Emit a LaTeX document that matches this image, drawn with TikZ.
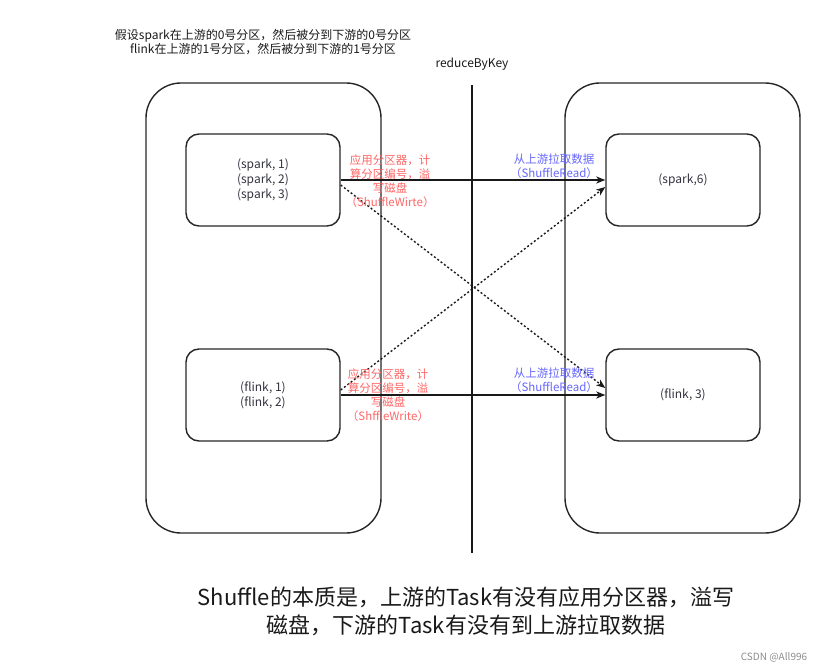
\documentclass[tikz,border=0pt]{standalone}
\usepackage{fontspec}
\setmainfont{Noto Sans CJK SC}
\usetikzlibrary{arrows.meta}
\definecolor{redtxt}{HTML}{FF6666}
\definecolor{bluetxt}{HTML}{6666FF}
\definecolor{dtxt}{HTML}{333340}
\tikzset{
  outerbox/.style={draw=black!85, line width=1.4pt, rounded corners=35pt, minimum width=235pt, minimum height=450pt},
  innerbox/.style={draw=black!85, line width=1.4pt, rounded corners=13pt, minimum width=154pt, minimum height=92pt, text=dtxt, align=center, font=\fontsize{12}{15}\selectfont},
  arr/.style={draw=black!90, line width=1.4pt, -{Stealth[length=9pt,width=7pt,inset=2.5pt]}},
  dotarr/.style={arr, dash pattern=on 2pt off 2.2pt},
  redlab/.style={text=redtxt, align=center, font=\fontsize{11.5}{14}\selectfont},
  bluelab/.style={text=bluetxt, align=center, font=\fontsize{11.5}{14}\selectfont},
}
\begin{document}
\begin{tikzpicture}[x=1pt,y=-1pt]
\useasboundingbox (0,0) rectangle (828,671);
\node[align=center, text=black!90, font=\fontsize{12}{14}\selectfont] (title) at (263,42) {假设spark在上游的0号分区，然后被分到下游的0号分区\\flink在上游的1号分区，然后被分到下游的1号分区};
\node[text=black!90, font=\fontsize{12}{14}\selectfont] (rbk) at (472,64) {reduceByKey};
\coordinate (v1) at (472,85);
\coordinate (v2) at (472,553);
\draw[black!90, line width=1.4pt] (v1) -- (v2);

\node[outerbox] (L) at (263.5,308) {};
\node[outerbox] (R) at (682.5,308) {};
\node[innerbox] (LT) at (263,180) {(spark, 1)\\(spark, 2)\\(spark, 3)};
\node[innerbox] (LB) at (263,395) {(flink, 1)\\(flink, 2)};
\node[innerbox] (RT) at (683,180) {(spark,6)};
\node[innerbox] (RB) at (683,395) {(flink, 3)};

\draw[arr] (LT.east) -- (RT.west);
\draw[arr] (LB.east) -- (RB.west);
\draw[dotarr] ([yshift=-5pt]LT.east) -- ([yshift=7pt]RB.west);
\draw[dotarr] ([yshift=5pt]LB.east) -- ([yshift=-7pt]RT.west);

\node[redlab] (w1) at (390,181) {应用分区器，计\\算分区编号，溢\\写磁盘\\（ShuffleWirte）};
\node[bluelab] (r1) at (554,166) {从上游拉取数据\\（ShuffleRead）};
\node[redlab] (w2) at (388,395) {应用分区器，计\\算分区编号，溢\\写磁盘\\（ShffleWrite）};
\node[bluelab] (r2) at (554,380) {从上游拉取数据\\（ShuffleRead）};

\node[align=center, text=black!90, font=\fontsize{22}{28}\selectfont] (sum) at (466,611) {Shuffle的本质是，上游的Task有没有应用分区器，溢写\\磁盘，下游的Task有没有到上游拉取数据};
\node[text=black!45, font=\fontsize{10}{12}\selectfont] (wm) at (774,657) {CSDN @All996};
\end{tikzpicture}
\end{document}
